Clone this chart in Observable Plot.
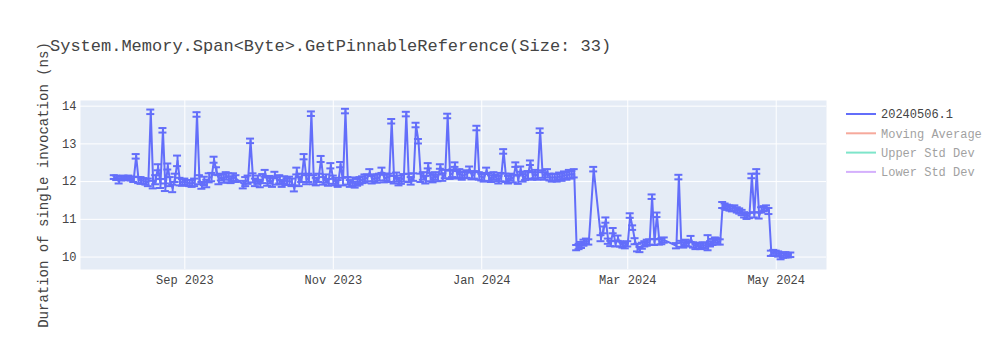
<!DOCTYPE html>
<html><head><meta charset="utf-8">
<script src="https://cdn.jsdelivr.net/npm/d3@7"></script>
<script src="https://cdn.jsdelivr.net/npm/@observablehq/plot@0.6"></script>
<style>body{margin:0;background:#fff} #chart{position:relative;width:1000px;height:350px}</style>
</head><body><div id="chart"></div>
<script>
const chartTitle = "System.Memory.Span<Byte>.GetPinnableReference(Size: 33)";
const yLabel = "Duration of single invocation (ns)";
const legendNames = ["20240506.1", "Moving Average", "Upper Std Dev", "Lower Std Dev"];
const legendColors = ["#636efa", "#EF553B", "#00CC96", "#AB63FA"];
const legendActive = [true, false, false, false];
const xTickDates = ["2023-09-01", "2023-11-01", "2024-01-01", "2024-03-01", "2024-05-01"];
const yTickValues = [10, 11, 12, 13, 14];

const dates = [
"2023-08-03","2023-08-04","2023-08-05","2023-08-06","2023-08-07","2023-08-08","2023-08-09","2023-08-10","2023-08-11","2023-08-12","2023-08-13","2023-08-14","2023-08-15","2023-08-16","2023-08-17","2023-08-18","2023-08-19","2023-08-20","2023-08-21","2023-08-22","2023-08-23","2023-08-24","2023-08-25","2023-08-26","2023-08-27","2023-08-28","2023-08-29","2023-08-30","2023-08-31",
"2023-09-01","2023-09-02","2023-09-03","2023-09-04","2023-09-05","2023-09-06","2023-09-07","2023-09-08","2023-09-09","2023-09-10","2023-09-11","2023-09-12","2023-09-13","2023-09-14","2023-09-15","2023-09-16","2023-09-17","2023-09-18","2023-09-19","2023-09-20","2023-09-21","2023-09-22","2023-09-25","2023-09-26","2023-09-27","2023-09-28","2023-09-29","2023-09-30",
"2023-10-01","2023-10-02","2023-10-03","2023-10-04","2023-10-05","2023-10-06","2023-10-07","2023-10-08","2023-10-09","2023-10-10","2023-10-11","2023-10-12","2023-10-13","2023-10-14","2023-10-15","2023-10-16","2023-10-17","2023-10-18","2023-10-19","2023-10-20","2023-10-21","2023-10-22","2023-10-23","2023-10-24","2023-10-25","2023-10-26","2023-10-27","2023-10-28","2023-10-29","2023-10-30","2023-10-31",
"2023-11-01","2023-11-02","2023-11-03","2023-11-04","2023-11-05","2023-11-06","2023-11-07","2023-11-08","2023-11-09","2023-11-10","2023-11-11","2023-11-12","2023-11-13","2023-11-14","2023-11-15","2023-11-16","2023-11-17","2023-11-18","2023-11-19","2023-11-20","2023-11-21","2023-11-22","2023-11-23","2023-11-24","2023-11-25","2023-11-26","2023-11-27","2023-11-28","2023-11-29","2023-11-30",
"2023-12-01","2023-12-02","2023-12-03","2023-12-04","2023-12-05","2023-12-06","2023-12-07","2023-12-08","2023-12-09","2023-12-10","2023-12-11","2023-12-12","2023-12-13","2023-12-14","2023-12-15","2023-12-16","2023-12-17","2023-12-18","2023-12-19","2023-12-20","2023-12-21","2023-12-22","2023-12-23","2023-12-24","2023-12-25","2023-12-26","2023-12-27","2023-12-28","2023-12-29","2023-12-30","2023-12-31",
"2024-01-01","2024-01-02","2024-01-03","2024-01-04","2024-01-05","2024-01-06","2024-01-07","2024-01-08","2024-01-09","2024-01-10","2024-01-11","2024-01-12","2024-01-13","2024-01-14","2024-01-15","2024-01-16","2024-01-17","2024-01-18","2024-01-19","2024-01-20","2024-01-21","2024-01-22","2024-01-23","2024-01-24","2024-01-25","2024-01-26","2024-01-27","2024-01-28","2024-01-29","2024-01-30","2024-01-31",
"2024-02-01","2024-02-02","2024-02-03","2024-02-04","2024-02-05","2024-02-06","2024-02-07","2024-02-08","2024-02-09","2024-02-10","2024-02-11","2024-02-12","2024-02-13","2024-02-14","2024-02-16","2024-02-19","2024-02-20","2024-02-21","2024-02-22","2024-02-23","2024-02-24","2024-02-25","2024-02-26","2024-02-27","2024-02-28","2024-02-29",
"2024-03-01","2024-03-02","2024-03-03","2024-03-04","2024-03-05","2024-03-06","2024-03-07","2024-03-08","2024-03-09","2024-03-10","2024-03-11","2024-03-12","2024-03-13","2024-03-14","2024-03-15","2024-03-16","2024-03-21","2024-03-22","2024-03-23","2024-03-24","2024-03-25","2024-03-26","2024-03-27","2024-03-28","2024-03-29","2024-03-30","2024-03-31",
"2024-04-01","2024-04-02","2024-04-03","2024-04-04","2024-04-05","2024-04-06","2024-04-07","2024-04-08","2024-04-09","2024-04-10","2024-04-11","2024-04-12","2024-04-13","2024-04-14","2024-04-15","2024-04-16","2024-04-17","2024-04-18","2024-04-19","2024-04-20","2024-04-21","2024-04-22","2024-04-23","2024-04-24","2024-04-25","2024-04-26","2024-04-27","2024-04-28","2024-04-29","2024-04-30",
"2024-05-01","2024-05-02","2024-05-03","2024-05-04","2024-05-05","2024-05-06","2024-05-07"
];

const durations = [
12.12,12.10,12.02,12.08,12.10,12.09,12.10,12.08,12.06,12.67,12.04,12.03,12.02,12.00,11.98,13.85,11.92,12.05,12.38,11.95,13.36,11.85,12.40,12.00,11.82,12.10,12.55,12.00,11.98,
12.00,11.97,11.96,11.95,11.98,13.78,12.05,11.90,12.02,11.95,12.10,12.12,12.58,12.28,12.05,12.12,12.08,12.15,12.10,12.05,12.12,12.08,11.92,12.00,12.05,13.08,12.10,11.98,
12.05,11.95,12.08,12.22,12.00,12.05,11.98,12.18,12.02,12.06,11.95,12.04,12.00,12.02,11.98,11.82,12.28,12.00,12.10,12.66,12.05,12.10,13.80,12.05,12.00,12.10,12.60,12.02,12.08,11.98,12.42,
12.05,12.00,11.95,12.45,12.00,13.87,12.02,11.95,12.00,11.92,11.98,12.02,12.05,12.08,12.10,12.25,12.05,12.10,12.08,12.12,12.30,12.08,12.12,12.10,13.60,12.05,12.12,12.00,12.05,12.10,
13.79,12.10,12.02,12.12,13.50,13.07,12.10,12.15,12.05,12.42,12.12,12.08,12.15,12.10,12.40,12.12,12.20,13.74,12.18,12.22,12.45,12.18,12.22,12.15,12.18,12.20,12.33,12.15,12.18,13.42,12.15,
12.12,12.10,12.30,12.12,12.08,12.15,12.10,12.05,12.12,12.80,12.10,12.05,12.12,12.08,12.45,12.05,12.33,12.10,12.15,12.18,12.50,12.15,12.20,12.15,13.35,12.20,12.15,12.22,12.12,12.10,12.12,
12.10,12.15,12.12,12.18,12.15,12.20,12.18,12.22,10.25,10.28,10.32,10.38,10.42,10.40,12.33,10.50,10.72,10.98,10.42,10.36,10.70,10.35,10.50,10.35,10.32,10.30,
10.35,11.10,10.78,10.42,10.25,10.20,10.30,10.35,10.38,10.40,11.60,10.40,11.12,10.40,10.42,10.45,10.30,12.12,10.35,10.32,10.38,10.35,10.48,10.32,10.28,10.30,10.28,
10.32,10.30,10.38,10.35,10.40,10.45,10.42,10.40,11.38,11.35,11.32,11.30,11.28,11.30,11.25,11.22,11.18,11.12,11.08,11.10,12.15,11.12,12.27,11.10,11.25,11.28,11.30,11.22,10.10,10.12,
10.10,10.08,10.02,10.05,10.06,10.05,10.06
];

const errors = [
0.05,0.06,0.07,0.05,0.06,0.05,0.06,0.05,0.07,0.06,0.08,0.09,0.07,0.08,0.10,0.06,0.10,0.12,0.08,0.12,0.06,0.10,0.08,0.12,0.10,0.11,0.14,0.10,0.09,
0.08,0.07,0.08,0.09,0.10,0.06,0.12,0.09,0.11,0.10,0.12,0.11,0.08,0.10,0.12,0.09,0.11,0.10,0.12,0.09,0.10,0.09,0.10,0.12,0.11,0.06,0.12,0.10,
0.11,0.10,0.12,0.09,0.11,0.10,0.12,0.08,0.10,0.11,0.09,0.10,0.09,0.11,0.10,0.08,0.09,0.12,0.11,0.07,0.12,0.11,0.06,0.12,0.10,0.11,0.08,0.10,0.11,0.09,0.07,
0.11,0.10,0.09,0.07,0.10,0.06,0.10,0.09,0.11,0.08,0.09,0.10,0.09,0.11,0.09,0.08,0.10,0.09,0.11,0.09,0.07,0.10,0.09,0.11,0.06,0.10,0.12,0.10,0.11,0.10,
0.06,0.11,0.10,0.10,0.06,0.06,0.11,0.10,0.10,0.07,0.11,0.10,0.10,0.09,0.06,0.10,0.11,0.06,0.11,0.10,0.06,0.10,0.11,0.10,0.09,0.10,0.07,0.09,0.10,0.06,0.10,
0.09,0.10,0.07,0.10,0.09,0.10,0.09,0.10,0.11,0.06,0.11,0.10,0.09,0.10,0.06,0.11,0.07,0.10,0.11,0.10,0.06,0.10,0.11,0.10,0.06,0.10,0.10,0.11,0.09,0.10,0.09,
0.10,0.09,0.10,0.09,0.10,0.11,0.10,0.11,0.07,0.07,0.08,0.08,0.07,0.07,0.06,0.08,0.09,0.07,0.07,0.07,0.07,0.07,0.07,0.07,0.07,0.07,
0.07,0.06,0.06,0.08,0.10,0.07,0.08,0.07,0.08,0.07,0.06,0.08,0.06,0.07,0.08,0.07,0.07,0.06,0.08,0.07,0.08,0.07,0.08,0.07,0.07,0.08,0.07,
0.07,0.08,0.20,0.07,0.08,0.07,0.08,0.07,0.08,0.07,0.07,0.07,0.07,0.07,0.07,0.07,0.07,0.07,0.07,0.07,0.06,0.07,0.06,0.08,0.07,0.07,0.07,0.08,0.07,0.07,
0.07,0.07,0.08,0.07,0.07,0.06,0.06
];

const COLOR = "#636efa";
const FONT = '"Liberation Mono", "Courier New", monospace';
const rows = dates.map((d, i) => ({date: new Date(d + "T00:00:00Z"), v: durations[i], e: errors[i]}));
const xTicks = xTickDates.map(d => new Date(d + "T00:00:00Z"));

const svg = Plot.plot({
  width: 1000, height: 350,
  marginLeft: 80, marginRight: 174, marginTop: 100, marginBottom: 81,
  style: {fontFamily: FONT, fontSize: "12px", color: "#444", background: "#fff", overflow: "visible"},
  x: {type: "utc", domain: [new Date("2023-07-20T03:00:00Z"), new Date("2024-05-21T16:00:00Z")], label: null},
  y: {domain: [9.67, 14.15], label: null},
  marks: [
    Plot.frame({fill: "#E5ECF6", stroke: null}),
    Plot.gridY(yTickValues, {stroke: "#fff", strokeOpacity: 1, strokeWidth: 1}),
    Plot.gridX(xTicks, {stroke: "#fff", strokeOpacity: 1, strokeWidth: 1}),
    Plot.axisX(xTicks, {tickSize: 0, tickPadding: 6, tickFormat: d3.utcFormat("%b %Y"), label: null, fill: "#444"}),
    Plot.axisY(yTickValues, {tickSize: 0, tickPadding: 4, label: null, fill: "#444"}),
    Plot.ruleX(rows, {x: "date", y1: d => d.v - d.e, y2: d => d.v + d.e, stroke: COLOR, strokeWidth: 2}),
    Plot.ruleY(rows, {x1: "date", x2: "date", y: d => d.v + d.e, insetLeft: -4, insetRight: -4, stroke: COLOR, strokeWidth: 2}),
    Plot.ruleY(rows, {x1: "date", x2: "date", y: d => d.v - d.e, insetLeft: -4, insetRight: -4, stroke: COLOR, strokeWidth: 2}),
    Plot.line(rows, {x: "date", y: "v", stroke: COLOR, strokeWidth: 2})
  ]
});

const s = d3.select(svg);
s.append("text").attr("x", 50).attr("y", 51).attr("text-anchor", "start")
  .attr("font-family", FONT).attr("font-size", 17).attr("fill", "#444")
  .text(chartTitle);
s.append("text").attr("transform", "translate(43,185) rotate(-90)")
  .attr("text-anchor", "middle").attr("dy", "0.35em")
  .attr("font-family", FONT).attr("font-size", 14).attr("fill", "#444")
  .text(yLabel);
const lg = s.append("g").attr("text-anchor", "start");
legendNames.forEach((name, i) => {
  const y = 114 + 19.3 * i;
  const g = lg.append("g").attr("opacity", legendActive[i] ? 1 : 0.5);
  g.append("line").attr("x1", 846).attr("x2", 876).attr("y1", y).attr("y2", y)
    .attr("stroke", legendColors[i]).attr("stroke-width", 2);
  g.append("text").attr("x", 881).attr("y", y).attr("dy", "0.35em").attr("text-anchor", "start")
    .attr("font-family", FONT).attr("font-size", 12).attr("fill", "#444").text(name);
});
document.getElementById("chart").appendChild(svg);
</script>
</body></html>
